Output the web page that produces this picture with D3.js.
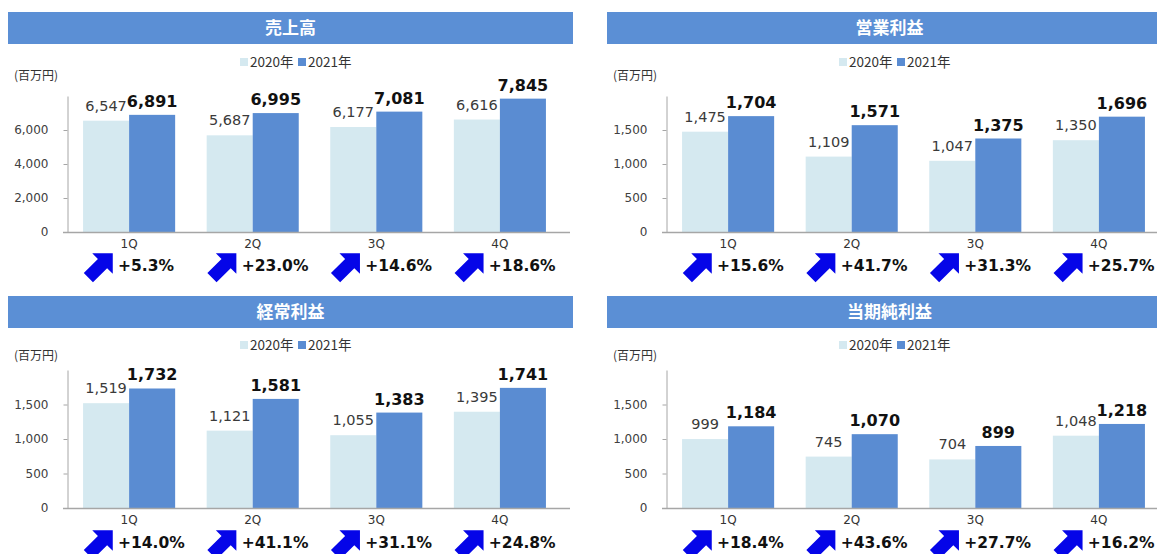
<!DOCTYPE html>
<html>
<head>
<meta charset="utf-8">
<script src="https://cdn.jsdelivr.net/npm/d3@7"></script>
<style>
  body { margin: 0; background: #fff; }
  svg { display: block; }
</style>
</head>
<body>
<svg id="chart" width="1157" height="554"></svg>
<script>
// Quarterly results, 2020 vs 2021 (millions of yen)
const quarters = ['1Q', '2Q', '3Q', '4Q'];
const seriesNames = ['2020年', '2021年'];
const unitLabel = '(百万円)';

const salesTitle = '売上高';
const sales2020 = [6547, 5687, 6177, 6616];
const sales2021 = [6891, 6995, 7081, 7845];
const salesGrowth = [5.3, 23.0, 14.6, 18.6];
const salesTicks = [0, 2000, 4000, 6000];

const opTitle = '営業利益';
const op2020 = [1475, 1109, 1047, 1350];
const op2021 = [1704, 1571, 1375, 1696];
const opGrowth = [15.6, 41.7, 31.3, 25.7];

const ordTitle = '経常利益';
const ord2020 = [1519, 1121, 1055, 1395];
const ord2021 = [1732, 1581, 1383, 1741];
const ordGrowth = [14.0, 41.1, 31.1, 24.8];

const netTitle = '当期純利益';
const net2020 = [999, 745, 704, 1048];
const net2021 = [1184, 1070, 899, 1218];
const netGrowth = [18.4, 43.6, 27.7, 16.2];

const profitTicks = [0, 500, 1000, 1500];

const colors = {
  light: '#D5E9F0',
  dark: '#5A8CD2',
  header: '#5B8FD5',
  arrow: '#0505E8',
  axis: '#A6A6A6'
};

const FONT_NUM = '"DejaVu Sans", Verdana, sans-serif';
const FONT_JP = '"Noto Sans CJK JP", "Noto Sans", sans-serif';

const svg = d3.select('#chart');

// horizontal offset of each column, vertical layout of each row
const colX = [0, 599];
const rows = [
  { headerY: 12, legendY: 62, unitY: 76, top: 96, zero: 232, catY: 244, pctY: 265 },
  { headerY: 296, legendY: 345, unitY: 356, top: 370, zero: 508, catY: 520, pctY: 542 }
];

const panels = [
  { title: salesTitle, a: sales2020, b: sales2021, growth: salesGrowth, max: 8000, ticks: salesTicks, col: 0, row: 0 },
  { title: opTitle, a: op2020, b: op2021, growth: opGrowth, max: 2000, ticks: profitTicks, col: 1, row: 0 },
  { title: ordTitle, a: ord2020, b: ord2021, growth: ordGrowth, max: 2000, ticks: profitTicks, col: 0, row: 1 },
  { title: netTitle, a: net2020, b: net2021, growth: netGrowth, max: 2000, ticks: profitTicks, col: 1, row: 1 }
];

const fmtVal = d3.format(',');
const fmtPct = v => d3.format('+.1f')(v) + '%';

// fat block arrow pointing right, centred on the origin (rotated to up-right when drawn)
function arrowPath() {
  const a = 17.25, H = 14.5, sw = 6.5;
  const pts = [
    [-a, -sw], [a - H, -sw], [a - H, -H], [a, 0], [a - H, H], [a - H, sw], [-a, sw]
  ];
  return d3.line()(pts) + 'Z';
}

function drawPanel(p) {
  const r = rows[p.row];
  const g = svg.append('g').attr('transform', `translate(${colX[p.col]},0)`);

  // title band
  g.append('rect')
    .attr('x', 8).attr('y', r.headerY)
    .attr('width', 565).attr('height', 32)
    .attr('fill', colors.header);
  g.append('text')
    .attr('x', 290.5).attr('y', r.headerY + 16).attr('dy', '0.36em')
    .attr('text-anchor', 'middle')
    .attr('font-family', FONT_JP).attr('font-weight', 'bold').attr('font-size', 17)
    .attr('fill', '#fff')
    .text(p.title);

  // legend
  const legend = g.append('g').attr('transform', `translate(240,${r.legendY})`);
  const legendStep = 58;
  seriesNames.forEach((name, i) => {
    const lg = legend.append('g').attr('transform', `translate(${i * legendStep},0)`);
    lg.append('rect').attr('x', 0).attr('y', -4).attr('width', 8).attr('height', 8)
      .attr('fill', i === 0 ? colors.light : colors.dark);
    lg.append('text').attr('x', 10).attr('y', 0).attr('dy', '0.36em')
      .attr('font-family', FONT_JP).attr('font-size', 13.5).attr('fill', '#333')
      .text(name);
  });

  // unit
  g.append('text')
    .attr('x', 14).attr('y', r.unitY).attr('dy', '0.36em')
    .attr('font-family', FONT_JP).attr('font-size', 12).attr('fill', '#333')
    .text(unitLabel);

  // scales
  const x = d3.scaleBand().domain(quarters).range([67, 562])
    .paddingInner(0.255).paddingOuter(0.13);
  const xs = d3.scaleBand().domain(seriesNames).range([0, x.bandwidth()]);
  const y = d3.scaleLinear().domain([0, p.max]).range([r.zero, r.top]);

  // y axis
  const yAxis = g.append('g').attr('transform', 'translate(67.5,0)')
    .call(d3.axisLeft(y).tickValues(p.ticks).tickFormat(fmtVal)
      .tickSize(4).tickSizeOuter(0).tickPadding(15));
  yAxis.select('.domain').attr('stroke', colors.axis);
  yAxis.selectAll('.tick line').attr('stroke', colors.axis);
  yAxis.selectAll('.tick text')
    .attr('font-family', FONT_NUM).attr('font-size', 12).attr('fill', '#404040');

  const rowsData = quarters.map((q, i) => ({ q, i, vals: [p.a[i], p.b[i]] }));

  // bars
  const grp = g.selectAll('g.qtr').data(rowsData).join('g')
    .attr('class', 'qtr')
    .attr('transform', d => `translate(${x(d.q)},0)`);

  grp.selectAll('rect')
    .data(d => d.vals.map((v, k) => ({ v, k })))
    .join('rect')
    .attr('x', d => xs(seriesNames[d.k]))
    .attr('width', xs.bandwidth())
    .attr('y', d => y(d.v))
    .attr('height', d => y(0) - y(d.v))
    .attr('fill', d => d.k === 0 ? colors.light : colors.dark);

  // value labels
  grp.selectAll('text.val')
    .data(d => d.vals.map((v, k) => ({ v, k })))
    .join('text')
    .attr('class', 'val')
    .attr('x', d => xs(seriesNames[d.k]) + xs.bandwidth() / 2)
    .attr('y', d => y(d.v) - (d.k === 0 ? 10 : 8))
    .attr('text-anchor', 'middle')
    .attr('font-family', FONT_NUM)
    .attr('font-size', d => d.k === 0 ? 14.5 : 16)
    .attr('font-weight', d => d.k === 0 ? 'normal' : 'bold')
    .attr('fill', d => d.k === 0 ? '#3a3a3a' : '#111')
    .text(d => fmtVal(d.v));

  // x axis line
  g.append('line')
    .attr('x1', 63).attr('x2', 570)
    .attr('y1', r.zero + 0.5).attr('y2', r.zero + 0.5)
    .attr('stroke', colors.axis).attr('stroke-width', 1.5);

  // category labels
  grp.append('text')
    .attr('x', x.bandwidth() / 2).attr('y', r.catY).attr('dy', '0.36em')
    .attr('text-anchor', 'middle')
    .attr('font-family', FONT_NUM).attr('font-size', 12).attr('fill', '#333')
    .text(d => d.q);

  // year-on-year growth with arrow
  grp.append('path')
    .attr('d', arrowPath())
    .attr('transform', `translate(17.5,${r.pctY + 0.5}) rotate(-45)`)
    .attr('fill', colors.arrow);
  grp.append('text')
    .attr('x', 35).attr('y', r.pctY).attr('dy', '0.36em')
    .attr('font-family', FONT_NUM).attr('font-weight', 'bold').attr('font-size', 15.5)
    .attr('fill', '#111')
    .text(d => fmtPct(p.growth[d.i]));
}

panels.forEach(drawPanel);
</script>
</body>
</html>
